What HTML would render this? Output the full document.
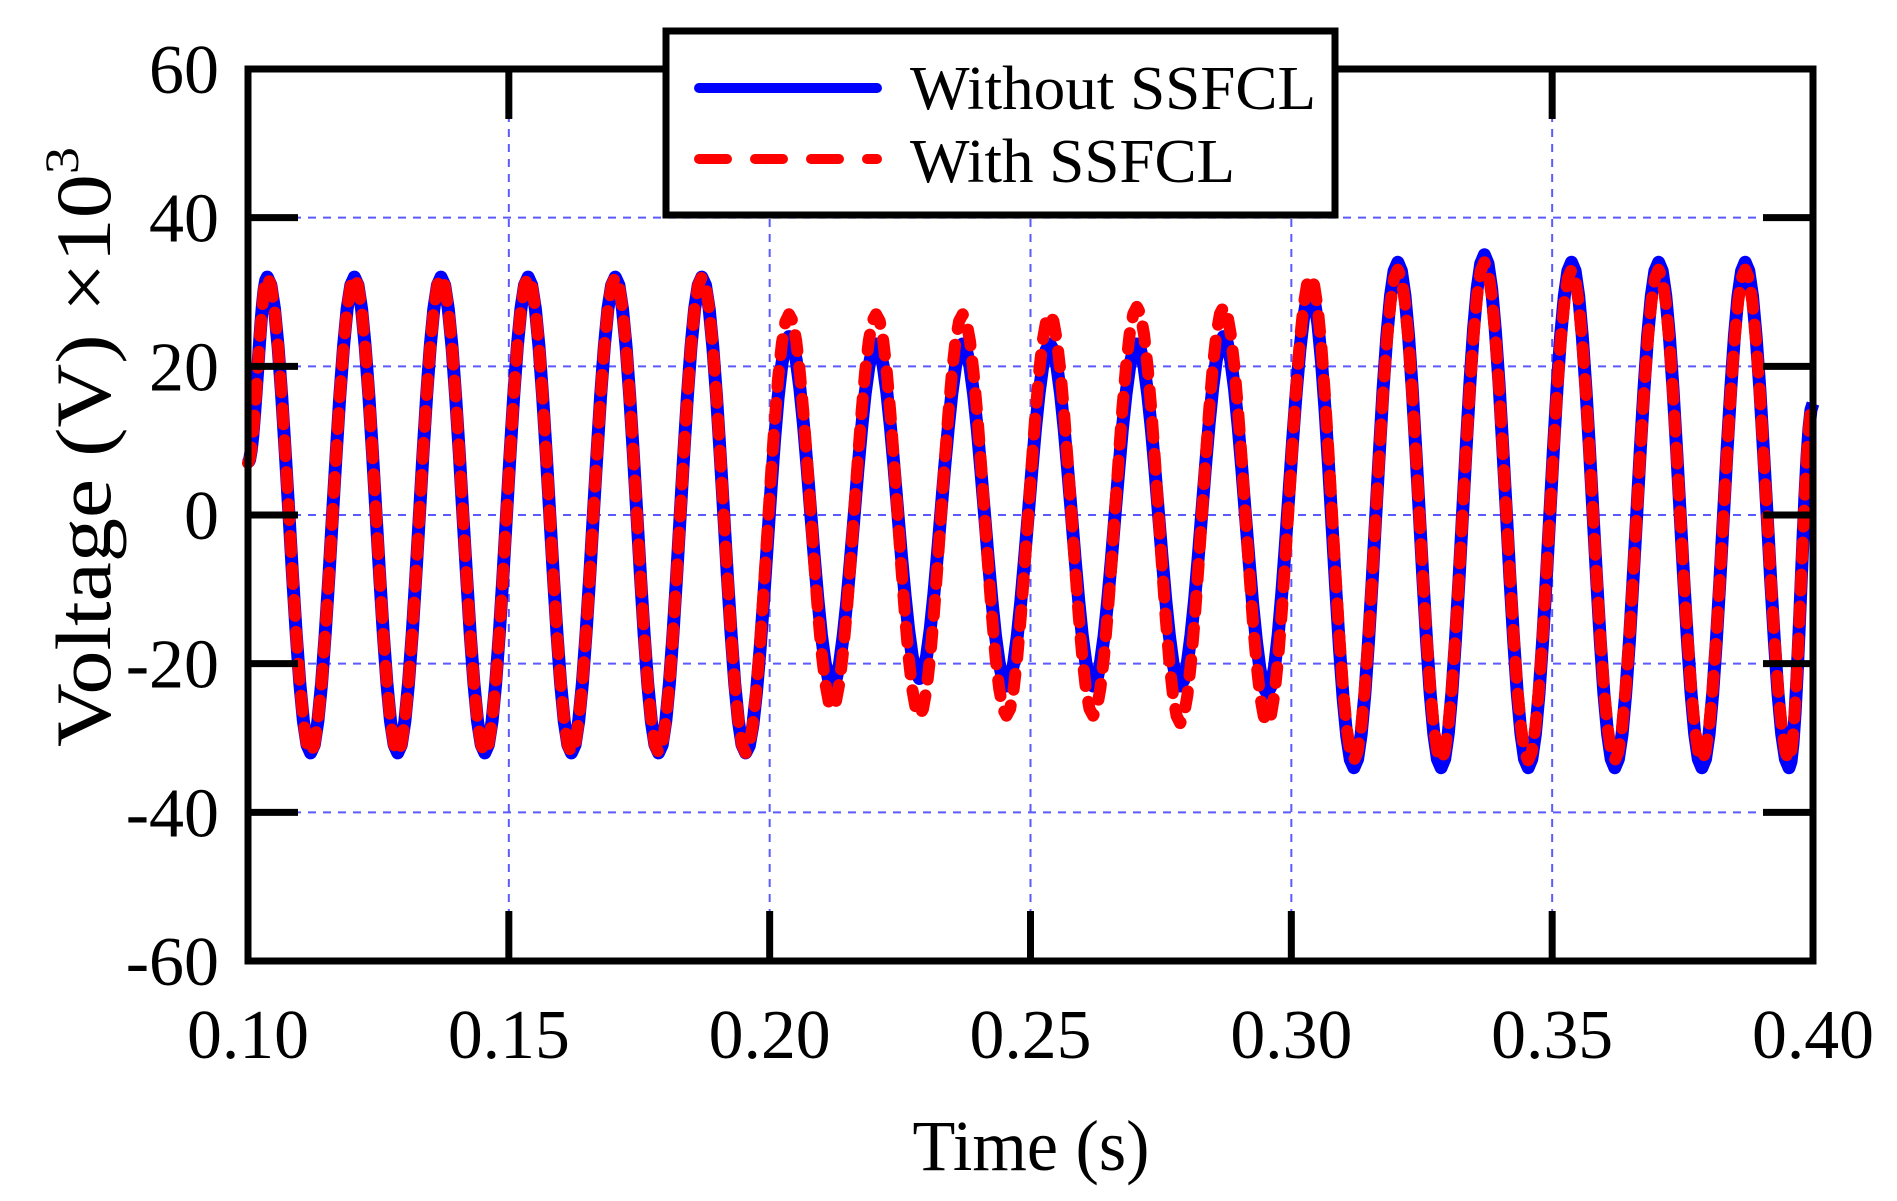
<!DOCTYPE html>
<html><head><meta charset="utf-8"><style>
html,body{margin:0;padding:0;background:#fff;}
svg{display:block;font-family:"Liberation Serif",serif;}
</style></head><body>
<svg id="chart" width="1897" height="1201" viewBox="0 0 1897 1201" xmlns="http://www.w3.org/2000/svg">
<g id="grid"></g>
<g id="series"></g>
<rect x="248" y="69" width="1565" height="892" fill="none" stroke="#000" stroke-width="7"/>
<g id="ticks"></g>
<g id="labels" font-size="70" fill="#000"></g>
<text x="1031" y="1170" font-size="72" text-anchor="middle" textLength="237" lengthAdjust="spacingAndGlyphs">Time (s)</text>
<text transform="translate(110,447) rotate(-90)" font-size="78" text-anchor="middle" textLength="600" lengthAdjust="spacingAndGlyphs">Voltage (V) ×10<tspan font-size="48" dy="-32">3</tspan></text>
<g>
<rect x="666" y="31" width="669" height="184" fill="#fff" stroke="#000" stroke-width="7"/>
<line x1="699" y1="88" x2="877" y2="88" stroke="#0000ff" stroke-width="10" stroke-linecap="round"/>
<text x="910" y="109" font-size="62" textLength="406" lengthAdjust="spacingAndGlyphs">Without SSFCL</text>
<line x1="699" y1="159" x2="877" y2="159" stroke="#ff0000" stroke-width="10" stroke-linecap="round" stroke-dasharray="28 28"/>
<text x="910" y="182" font-size="62" textLength="325" lengthAdjust="spacingAndGlyphs">With SSFCL</text>
</g>
</svg>
<script>
const extremeTimes = [0.1000,0.1037,0.1120,0.1204,0.1287,0.1370,0.1454,0.1537,0.1620,0.1704,0.1787,0.1870,0.1954,0.2037,0.2120,0.2204,0.2287,0.2370,0.2454,0.2537,0.2620,0.2704,0.2787,0.2870,0.2954,0.3037,0.3120,0.3204,0.3287,0.3370,0.3454,0.3537,0.3620,0.3704,0.3787,0.3870,0.3954,0.4000];
const withoutValues = [7,32,-32,32,-32,32,-32,32,-32,32,-32,32,-32,24,-23,23,-22,23,-23,23,-23,23,-23,24,-24,30,-34,34,-34,35,-34,34,-34,34,-34,34,-34,15];
const withValues = [7,32,-32,32,-32,32,-32,32,-32,32,-32,32,-32,27,-26,27,-27,27,-27,27,-27,28,-28,28,-28,32,-33,33,-33,34,-33,33,-33,33,-33,33,-33,15];
const xTicks = [0.10,0.15,0.20,0.25,0.30,0.35,0.40];
const xTickLabels = ["0.10","0.15","0.20","0.25","0.30","0.35","0.40"];
const yTicks = [-60,-40,-20,0,20,40,60];
const yTickLabels = ["-60","-40","-20","0","20","40","60"];

const X0=248,X1=1813,Y0=961,Y1=69;
const xs = t => X0 + (t-0.1)/(0.3)*(X1-X0);
const ys = v => Y0 - (v+60)/120*(Y0-Y1);
const NS="http://www.w3.org/2000/svg";
function mk(tag,attrs,parent){const e=document.createElementNS(NS,tag);for(const k in attrs)e.setAttribute(k,attrs[k]);parent.appendChild(e);return e;}
const grid=document.getElementById('grid'),ticks=document.getElementById('ticks'),labels=document.getElementById('labels'),series=document.getElementById('series');

xTicks.forEach((t,i)=>{
  const x=xs(t);
  if(i>0&&i<xTicks.length-1){
    const g=mk('line',{x1:x,y1:Y1,x2:x,y2:Y0,stroke:'#5a5aff','stroke-width':2,'stroke-dasharray':'8 7'},grid);
    
    
    const a=mk('line',{x1:x,y1:Y0,x2:x,y2:Y0-50,stroke:'#000','stroke-width':7},ticks);
    
    
    const b=mk('line',{x1:x,y1:Y1,x2:x,y2:Y1+50,stroke:'#000','stroke-width':7},ticks);
    
    
  }
  const l=mk('text',{x:x,y:1058,'text-anchor':'middle',textLength:122,lengthAdjust:'spacingAndGlyphs'},labels);
  l.textContent=xTickLabels[i];
  
  
});
yTicks.forEach((v,i)=>{
  const y=ys(v);
  if(i>0&&i<yTicks.length-1){
    const g=mk('line',{x1:X0,y1:y,x2:X1,y2:y,stroke:'#5a5aff','stroke-width':2,'stroke-dasharray':'8 7'},grid);
    
    
    const a=mk('line',{x1:X0,y1:y,x2:X0+50,y2:y,stroke:'#000','stroke-width':7},ticks);
    
    
    const b=mk('line',{x1:X1,y1:y,x2:X1-50,y2:y,stroke:'#000','stroke-width':7},ticks);
    
    
  }
  const l=mk('text',{x:219,y:y+24,'text-anchor':'end'},labels);
  l.textContent=yTickLabels[i];
  
  
});
function pathFor(vals){
  let d='';
  for(let i=0;i<extremeTimes.length-1;i++){
    const t0=extremeTimes[i],t1=extremeTimes[i+1],a=vals[i],b=vals[i+1];
    const n=12;
    for(let k=(i===0?0:1);k<=n;k++){
      const u=k/n,t=t0+(t1-t0)*u,v=a+(b-a)*(1-Math.cos(Math.PI*u))/2;
      d+=(d?'L':'M')+xs(t).toFixed(1)+','+ys(v).toFixed(1);
    }
  }
  return d;
}
const p1=mk('path',{d:pathFor(withoutValues),fill:'none',stroke:'#0000ff','stroke-width':13,'stroke-linejoin':'round'},series);


const p2=mk('path',{d:pathFor(withValues),fill:'none',stroke:'#ff0000','stroke-width':12,'stroke-linecap':'round','stroke-linejoin':'round','stroke-dasharray':'16 16'},series);


</script>
</body></html>
